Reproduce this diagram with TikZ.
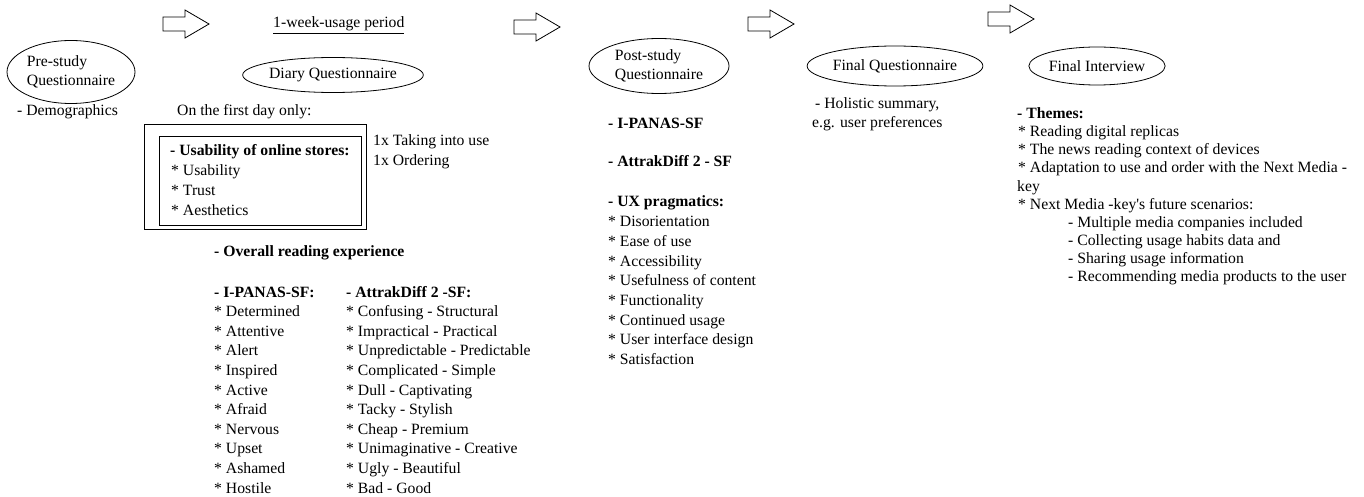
\documentclass[tikz,border=0pt]{standalone}
\usepackage{fontspec}
\setmainfont{Liberation Serif}
\usetikzlibrary{shapes.geometric}

\begin{document}
\begin{tikzpicture}[x=1pt,y=-1pt,
    txt/.style={anchor=base west,inner sep=0pt,font=\fontsize{15.7}{19.6}\selectfont},
    head/.style={txt,font=\fontsize{15.7}{19.6}\selectfont\bfseries},
    phase/.style={draw=black,ellipse,line width=0.8pt,inner sep=0pt,
        font=\fontsize{15.7}{19}\selectfont},
    blockarrow/.style={draw=black,line width=0.8pt,fill=white},
    frame/.style={draw=black,line width=1pt,inner sep=0pt,anchor=north west}
]
    \useasboundingbox (0,0) rectangle (1364,497);

    % flow arrows between the phases
    \foreach \ax/\ay in {163/24,514/27,748/24,988/19}
        \draw[blockarrow] (\ax,\ay-7) -- ++(22,0) -- ++(0,-7) -- ++(24,14)
            -- ++(-24,14) -- ++(0,-7) -- ++(-22,0) -- cycle;

    % pre-study
    \node[phase,minimum width=128pt,minimum height=63pt] (prestudy) at (71,72)
        {\begin{tabular}{@{}l@{}}Pre-study\\Questionnaire\end{tabular}};
    \node[txt] (demo) at (17,116) {- Demographics};

    % usage period with diary
    \node[txt] (period) at (273,28) {\underline{1-week-usage period}};
    \node[phase,minimum width=142pt,minimum height=35pt] (diary) at (333,75)
        {Diary Questionnaire};
    \node[txt] (firstday) at (177,116) {On the first day only:};
    \node[frame,minimum width=222pt,minimum height=105pt] (outerbox) at (144,124) {};
    \node[frame,minimum width=202pt,minimum height=89pt] (innerbox) at (159,136) {};
    \node[head] (usab) at (170,156) {- Usability of online stores:};
    \foreach \txt [count=\i] in {Usability,Trust,Aesthetics}
        \node[txt] (usab-\i) at (171,156+\i*19.7) {* \txt};
    \node[txt] (once-1) at (373,146) {1x Taking into use};
    \node[txt] (once-2) at (373,165.5) {1x Ordering};

    \node[head] (overall) at (214,256) {- Overall reading experience};
    \node[head] (panas) at (214,297) {- I-PANAS-SF:};
    \foreach \txt [count=\i] in {Determined,Attentive,Alert,Inspired,Active,
        Afraid,Nervous,Upset,Ashamed,Hostile}
        \node[txt] (panas-\i) at (214,297+\i*19.6) {* \txt};
    \node[head] (attrak) at (346,297) {- AttrakDiff 2 -SF:};
    \foreach \txt [count=\i] in {Confusing - Structural,Impractical - Practical,
        Unpredictable - Predictable,Complicated - Simple,Dull - Captivating,
        Tacky - Stylish,Cheap - Premium,Unimaginative - Creative,
        Ugly - Beautiful,Bad - Good}
        \node[txt] (attrak-\i) at (346,297+\i*19.6) {* \txt};

    % post-study
    \node[phase,minimum width=140pt,minimum height=55pt] (poststudy) at (659,66)
        {\begin{tabular}{@{}l@{}}Post-study\\Questionnaire\end{tabular}};
    \node[head] (post-panas) at (608,129) {- I-PANAS-SF};
    \node[head] (post-attrak) at (608,167) {- AttrakDiff 2 - SF};
    \node[head] (ux) at (608,207) {- UX pragmatics:};
    \foreach \txt [count=\i] in {Disorientation,Ease of use,Accessibility,
        Usefulness of content,Functionality,Continued usage,
        User interface design,Satisfaction}
        \node[txt] (ux-\i) at (608,207+\i*19.7) {* \txt};

    % final questionnaire
    \node[phase,minimum width=164pt,minimum height=40pt] (finalq) at (895,66)
        {Final Questionnaire};
    \node[txt] (holistic-1) at (815,109) {- Holistic summary,};
    \node[txt] (holistic-2) at (812,128) {e.g. user preferences};

    % final interview
    \node[phase,minimum width=130pt,minimum height=38pt] (interview) at (1097,66)
        {Final Interview};
    \node[head] (themes) at (1017,119) {- Themes:};
    \node[txt] (theme-1) at (1018,137) {* Reading digital replicas};
    \node[txt] (theme-2) at (1018,155) {* The news reading context of devices};
    \node[txt] (theme-3) at (1018,173) {* Adaptation to use and order with the Next Media -};
    \node[txt] (theme-3b) at (1017,191) {key};
    \node[txt] (theme-4) at (1018,209) {* Next Media -key\textquotesingle s future scenarios:};
    \foreach \txt [count=\i] in {Multiple media companies included,
        Collecting usage habits data and,Sharing usage information,
        Recommending media products to the user}
        \node[txt] (scenario-\i) at (1068,209+\i*18) {- \txt};

\end{tikzpicture}
\end{document}
